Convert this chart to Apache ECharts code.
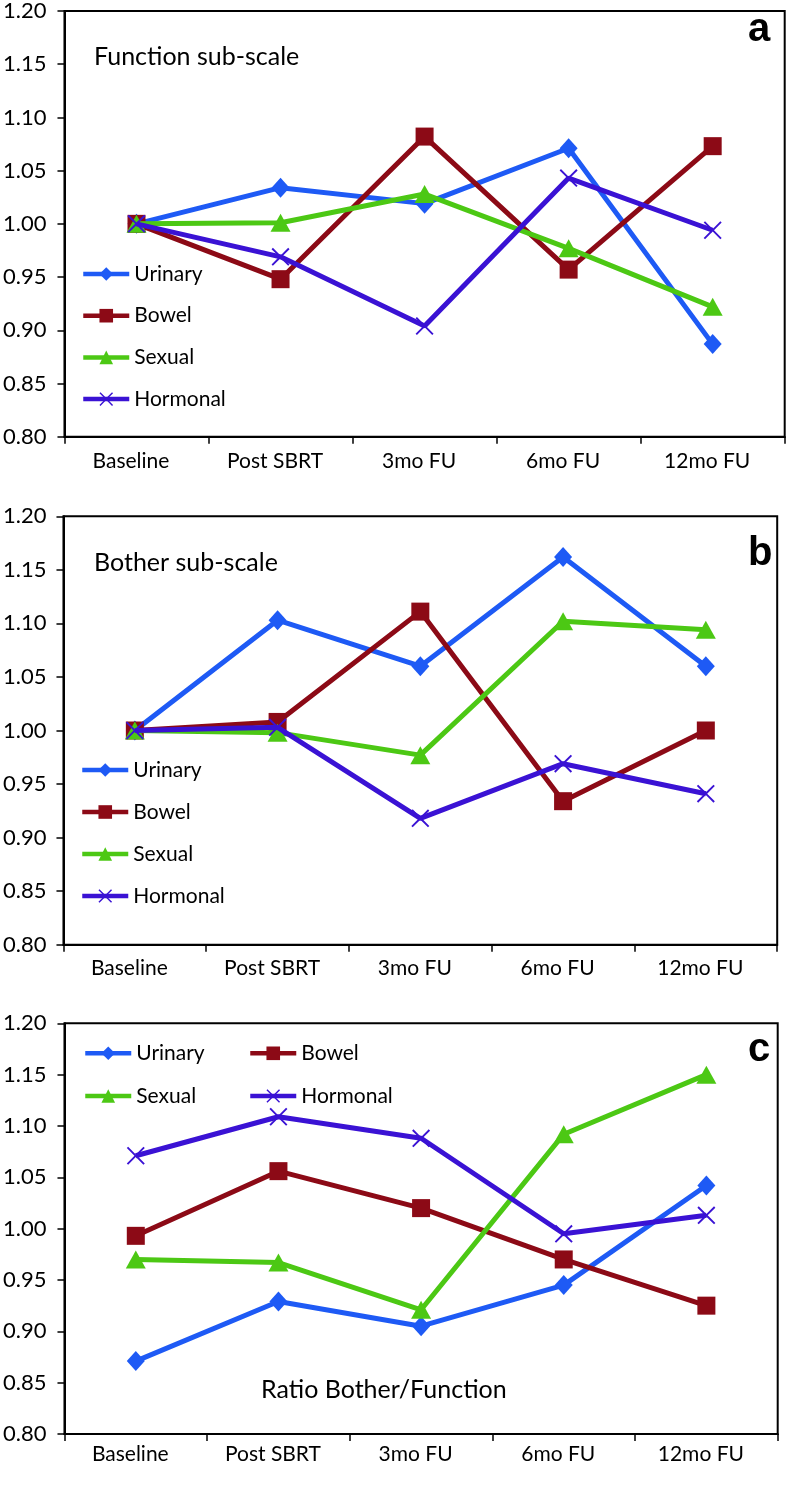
<!DOCTYPE html>
<html><head><meta charset="utf-8">
<script src="https://cdn.jsdelivr.net/npm/echarts@6/dist/echarts.min.js"></script>
<style>html,body{margin:0;padding:0;background:#fff}#c{width:786px;height:1486px}</style>
</head><body><div id="c"></div><script>
const categories = ['Baseline', 'Post SBRT', '3mo FU', '6mo FU', '12mo FU'];
const seriesNames = ['Urinary', 'Bowel', 'Sexual', 'Hormonal'];
const yMin = 0.80, yMax = 1.20, yStep = 0.05;

const funcUrinary  = [1.000, 1.034, 1.019, 1.071, 0.887];
const funcBowel    = [1.000, 0.948, 1.082, 0.957, 1.073];
const funcSexual   = [1.000, 1.001, 1.028, 0.977, 0.922];
const funcHormonal = [1.000, 0.969, 0.904, 1.043, 0.994];

const bothUrinary  = [1.000, 1.103, 1.060, 1.162, 1.060];
const bothBowel    = [1.000, 1.008, 1.111, 0.934, 1.000];
const bothSexual   = [1.000, 0.998, 0.977, 1.102, 1.094];
const bothHormonal = [1.000, 1.003, 0.918, 0.969, 0.941];

const ratioUrinary  = [0.871, 0.929, 0.905, 0.945, 1.042];
const ratioBowel    = [0.993, 1.056, 1.020, 0.970, 0.925];
const ratioSexual   = [0.970, 0.967, 0.921, 1.092, 1.150];
const ratioHormonal = [1.071, 1.109, 1.088, 0.995, 1.013];

const panelTitles = ['Function sub-scale', 'Bother sub-scale', 'Ratio Bother/Function'];
const panelLetters = ['a', 'b', 'c'];

const colors = {Urinary:'#1E5AF5', Bowel:'#8C0A16', Sexual:'#4CC814', Hormonal:'#3A12D4'};
const X_PATH = 'path://M0,1.5L1.5,0L10,8.5L18.5,0L20,1.5L11.5,10L20,18.5L18.5,20L10,11.5L1.5,20L0,18.5L8.5,10Z';
const symbols = {Urinary:['diamond',[18,20]], Bowel:['rect',18], Sexual:['triangle',[20,18]], Hormonal:[X_PATH,18]};

const panelData = [
  [funcUrinary, funcBowel, funcSexual, funcHormonal],
  [bothUrinary, bothBowel, bothSexual, bothHormonal],
  [ratioUrinary, ratioBowel, ratioSexual, ratioHormonal]
];

const grids = [
  {left:58.7, top:7.3, width:726, height:429.4},
  {left:57.7, top:516.3, width:719.5, height:428.4},
  {left:58.7, top:1023.3, width:719, height:410.7}
];
const xMargins = [14, 13, 10];
const yMargins = [18, 17, 18];
const FONT = 'Lato';

const option = {
  animation:false,
  backgroundColor:'#fff',
  grid: grids.map(g => Object.assign({show:true, borderColor:'#000', borderWidth:2, backgroundColor:'transparent', containLabel:false}, g)),
  xAxis: grids.map((g,i) => ({
    type:'category', gridIndex:i, data:categories, boundaryGap:true,
    axisLine:{show:true, lineStyle:{color:'#000', width:2}},
    axisTick:{show:true, length:7, lineStyle:{color:'#000', width:1.5}},
    axisLabel:{color:'#000', fontSize:21, fontFamily:FONT, margin:xMargins[i], interval:0, padding:[0,11,0,0]},
    splitLine:{show:false}
  })),
  yAxis: grids.map((g,i) => ({
    type:'value', gridIndex:i, min:yMin, max:yMax, interval:yStep,
    axisLine:{show:true, lineStyle:{color:'#000', width:2}},
    axisTick:{show:true, length:7, lineStyle:{color:'#000', width:1.5}},
    axisLabel:{color:'#000', fontSize:22, fontFamily:FONT, margin:yMargins[i], formatter:v => v.toFixed(2)},
    splitLine:{show:false}
  })),
  series: [],
  legend: [],
  graphic: []
};

panelData.forEach((arrs, p) => {
  arrs.forEach((vals, k) => {
    const name = seriesNames[k];
    option.series.push({
      type:'line', name, xAxisIndex:p, yAxisIndex:p, data:vals,
      symbol:symbols[name][0], symbolSize:symbols[name][1], showSymbol:true,
      lineStyle:{color:colors[name], width:5},
      itemStyle:{color:colors[name]},
      emphasis:{disabled:true}, z:2+k
    });
  });
});

const legendBase = {padding:0, itemWidth:46, itemHeight:17, selectedMode:false,
  lineStyle:{width:4.5},
  textStyle:{fontSize:21, fontFamily:FONT, color:'#000', lineHeight:21}};
option.legend.push(Object.assign({}, legendBase, {orient:'vertical', left:81, top:263.5, itemGap:20.7, data:seriesNames}));
option.legend.push(Object.assign({}, legendBase, {orient:'vertical', left:80, top:759.5, itemGap:21, data:seriesNames}));
const cLegendPos = [[83,1042.8],[248,1042.8],[83,1085.5],[248,1085.5]];
seriesNames.forEach((n,k) => {
  option.legend.push(Object.assign({}, legendBase, {orient:'horizontal', left:cLegendPos[k][0], top:cLegendPos[k][1], data:[n]}));
});

const titlePos = [[94,57],[94,562.5],[261,1390]];
const letterPos = [[748,29.5],[748,553.5],[748,1050]];
panelTitles.forEach((t,i) => {
  option.graphic.push({type:'text', x:titlePos[i][0], y:titlePos[i][1], z:10,
    style:{text:t, fontSize:25, fontFamily:FONT, fill:'#000', align:'left', verticalAlign:'middle'}});
  option.graphic.push({type:'text', x:letterPos[i][0], y:letterPos[i][1], z:10,
    style:{text:panelLetters[i], fontSize:40, fontWeight:'bold', fontFamily:'Liberation Sans, Arial', fill:'#000', align:'left', verticalAlign:'middle'}});
});

const chart = echarts.init(document.getElementById('c'));
chart.setOption(option);
</script></body></html>
